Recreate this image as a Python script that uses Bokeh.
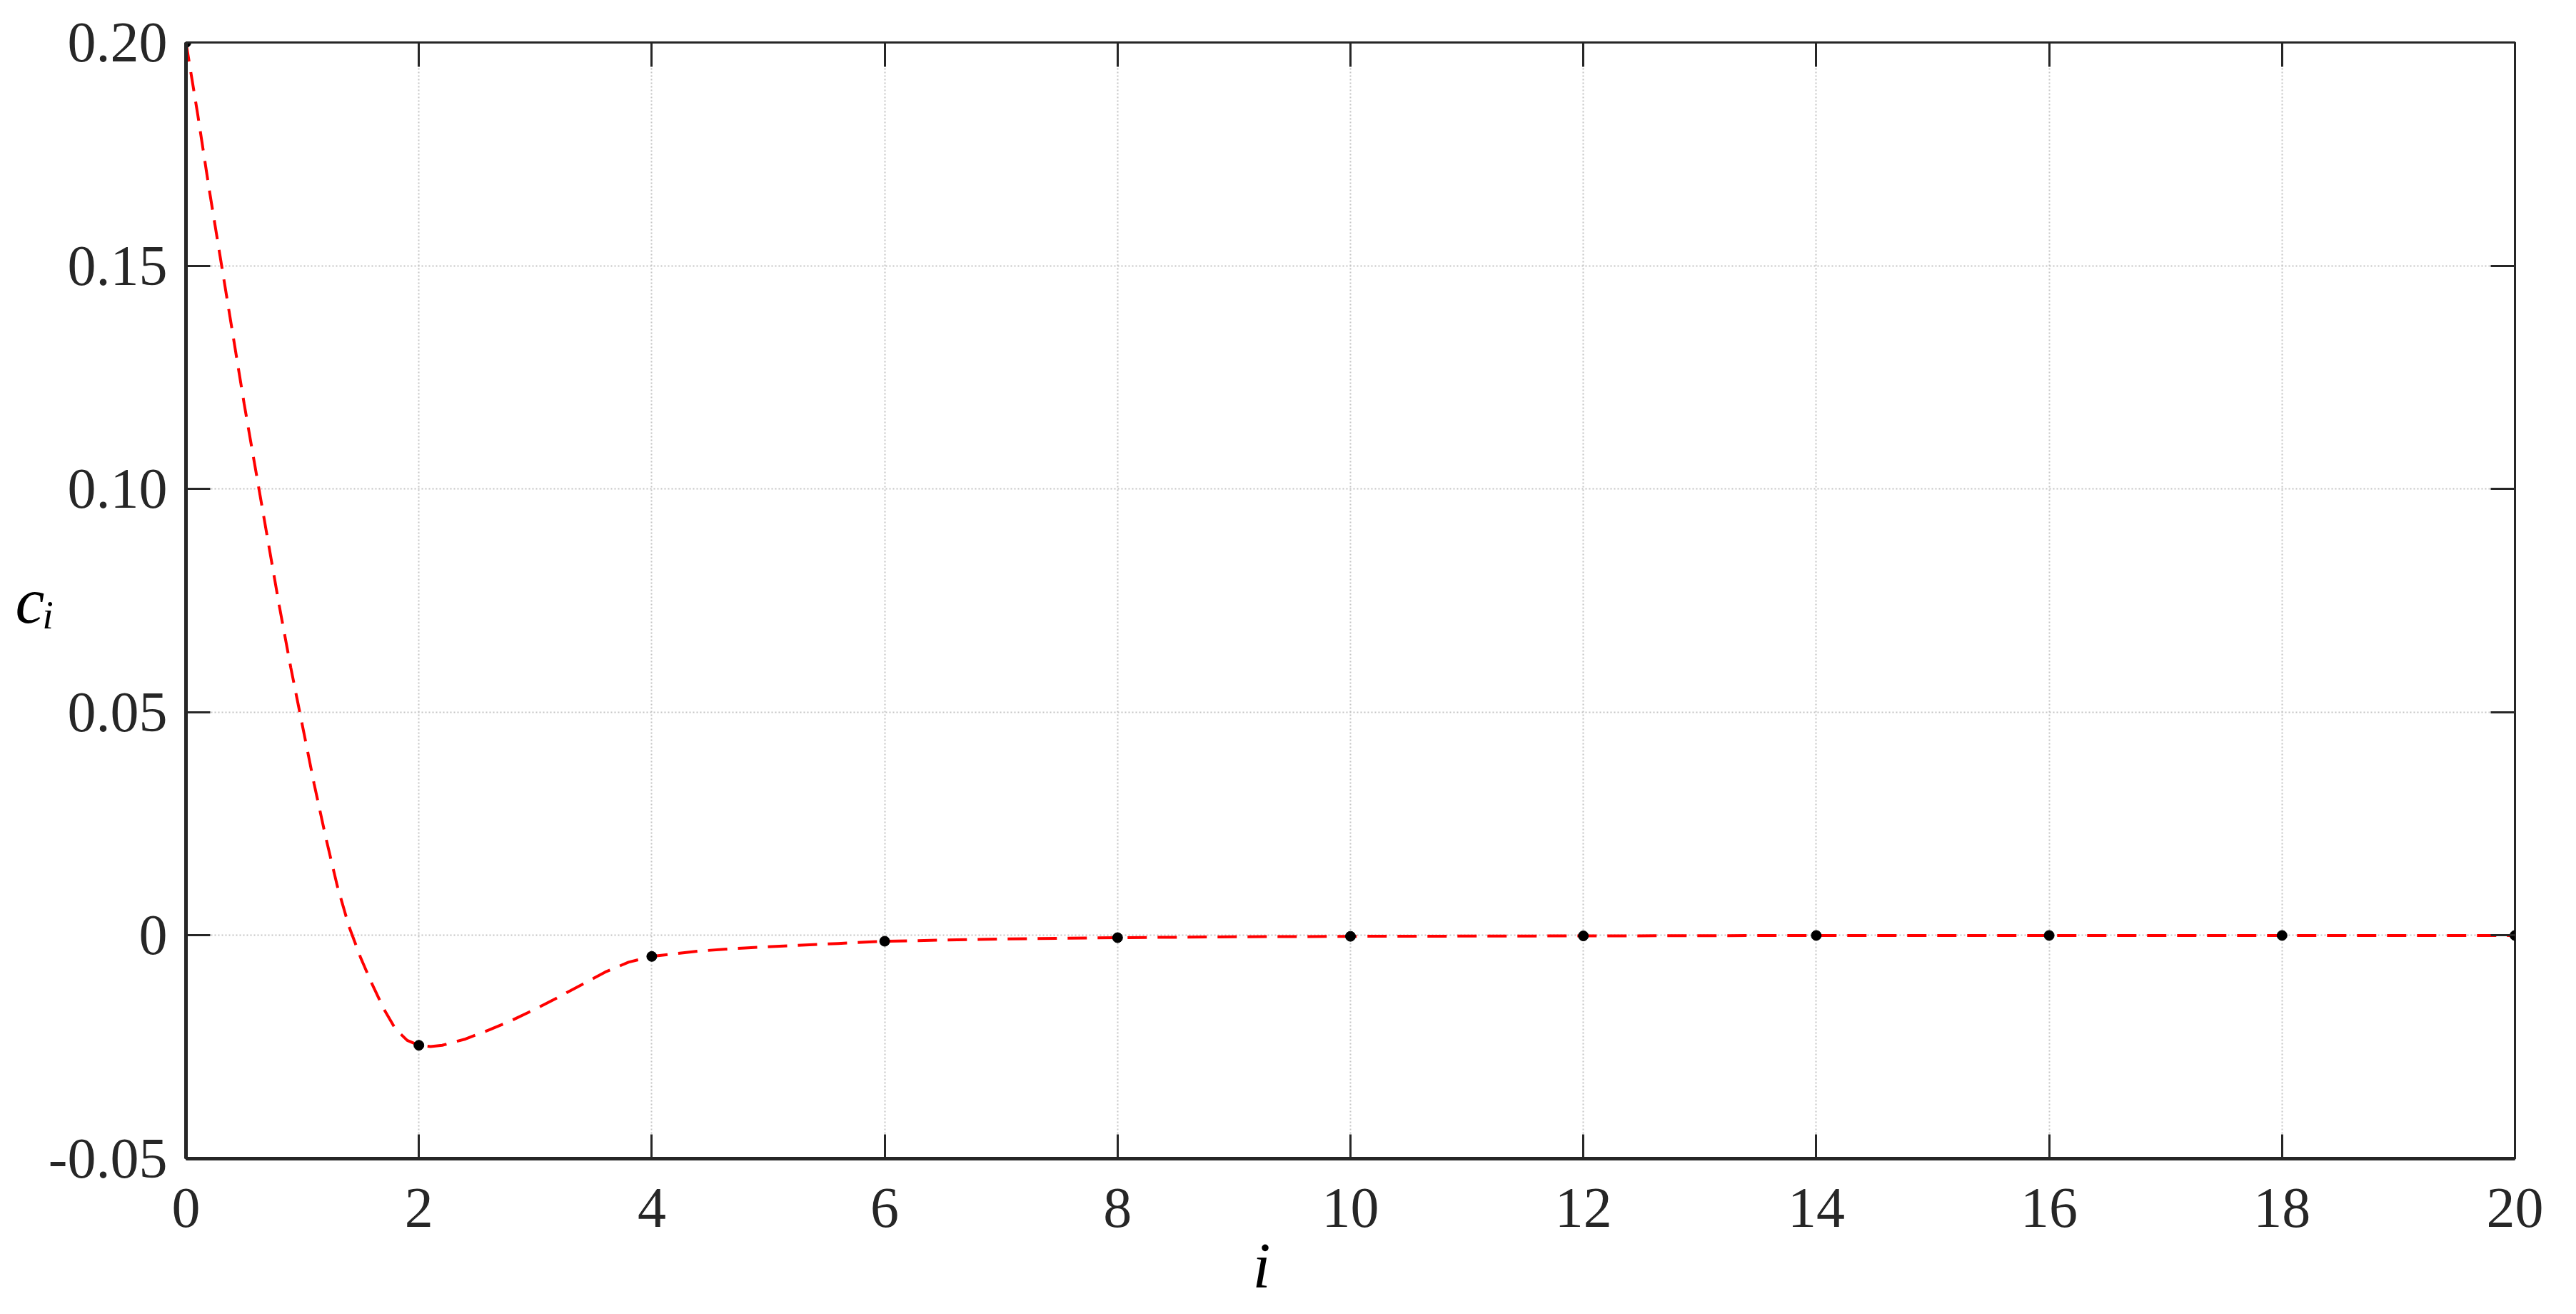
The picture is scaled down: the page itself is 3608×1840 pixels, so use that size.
from bokeh.plotting import figure
from bokeh.models import Range1d, LinearAxis, FixedTicker, Title, CustomJSTickFormatter
from bokeh.embed import file_html
from bokeh.resources import INLINE

# ---- data ----
i_points = [0, 2, 4, 6, 8, 10, 12, 14, 16, 18, 20]
c_points = [0.200, -0.0246, -0.0047, -0.0013, -0.0005, -0.0002, -0.0001, 0.0, 0.0, 0.0, 0.0]

curve_i = [0.0, 0.1, 0.2, 0.3, 0.4, 0.5, 0.6, 0.7, 0.8, 0.9, 1.0, 1.1, 1.2, 1.3, 1.4,
           1.5, 1.6, 1.7, 1.8, 1.9, 2.0, 2.1, 2.2, 2.4, 2.6, 2.8, 3.0, 3.2, 3.4, 3.6,
           3.8, 4.0, 4.4, 4.8, 5.2, 5.6, 6.0, 7.0, 8.0, 9.0, 10.0, 12.0, 14.0, 16.0,
           18.0, 20.0]
curve_c = [0.200, 0.184, 0.167, 0.151, 0.135, 0.119, 0.104, 0.089, 0.074, 0.060,
           0.047, 0.034, 0.022, 0.011, 0.002, -0.005, -0.011, -0.0165, -0.021,
           -0.0235, -0.0246, -0.0249, -0.0246, -0.0232, -0.0212, -0.0190, -0.0165,
           -0.0138, -0.0110, -0.0082, -0.0060, -0.0047, -0.0035, -0.0028, -0.0023,
           -0.0018, -0.0013, -0.0008, -0.0005, -0.0003, -0.0002, -0.0001, 0.0, 0.0,
           0.0, 0.0]

x_ticks = [0, 2, 4, 6, 8, 10, 12, 14, 16, 18, 20]
y_ticks = [-0.05, 0.0, 0.05, 0.10, 0.15, 0.20]
x_label = "i"
y_label = "c\u1d62"

AX = "#262626"
FONT = "Liberation Serif"

p = figure(width=3602, height=1830, output_backend="svg", toolbar_location=None,
           x_range=Range1d(0, 20), y_range=Range1d(-0.05, 0.20),
           min_border_left=260, min_border_right=80, min_border_top=59, min_border_bottom=208,
           background_fill_color="white", border_fill_color="white")

p.outline_line_color = AX
p.outline_line_width = 3

yfmt = CustomJSTickFormatter(code="""
if (Math.abs(tick) < 1e-9) { return "0"; }
return (tick < 0 ? "-" : "") + Math.abs(tick).toFixed(2);
""")

for ax in p.xaxis:
    ax.ticker = FixedTicker(ticks=x_ticks)
for ax in p.yaxis:
    ax.ticker = FixedTicker(ticks=y_ticks)
    ax.formatter = yfmt

for ax in list(p.xaxis) + list(p.yaxis):
    ax.axis_line_color = AX
    ax.axis_line_width = 5
    ax.major_tick_line_color = AX
    ax.major_tick_line_width = 3
    ax.major_tick_in = 34
    ax.major_tick_out = 0
    ax.minor_tick_line_color = None
    ax.major_label_text_font = FONT
    ax.major_label_text_font_size = "80px"
    ax.major_label_text_color = AX
p.xaxis.major_label_standoff = 42
p.yaxis.major_label_standoff = 26

# y axis label: horizontal italic c with subscript i
p.yaxis.axis_label = y_label
p.yaxis.axis_label_orientation = "horizontal"
p.yaxis.axis_label_text_font = FONT
p.yaxis.axis_label_text_font_style = "italic"
p.yaxis.axis_label_text_font_size = "92px"
p.yaxis.axis_label_text_color = "black"
p.yaxis.axis_label_standoff = -12

# mirrored ticks on top and right (box style)
blank = CustomJSTickFormatter(code="return '';")
right_ax = LinearAxis(ticker=FixedTicker(ticks=y_ticks), formatter=blank, axis_line_color=None,
                      major_tick_line_color=AX, major_tick_line_width=3,
                      major_tick_in=34, major_tick_out=0, minor_tick_line_color=None,
                      major_label_standoff=0)
top_ax = LinearAxis(ticker=FixedTicker(ticks=x_ticks), formatter=blank, axis_line_color=None,
                    major_tick_line_color=AX, major_tick_line_width=3,
                    major_tick_in=34, major_tick_out=0, minor_tick_line_color=None,
                    major_label_standoff=0)
p.add_layout(right_ax, "right")
p.add_layout(top_ax, "above")

# x axis label as a title below, positioned like the reference
p.add_layout(Title(text=x_label, align="left", offset=1494, standoff=0,
                   text_font=FONT, text_font_style="italic", text_font_size="90px",
                   text_color="black"), "below")

p.xgrid.ticker = FixedTicker(ticks=x_ticks)
p.ygrid.ticker = FixedTicker(ticks=y_ticks)
for g in (p.xgrid, p.ygrid):
    g.grid_line_color = "#c4c4c4"
    g.grid_line_width = 2
    g.grid_line_dash = "2 3"

p.line(curve_i, curve_c, line_color="#ff0000", line_width=4, line_dash="27 15")
p.scatter(i_points, c_points, size=14, color="black")

open("out.html", "w").write(file_html(p, INLINE))
